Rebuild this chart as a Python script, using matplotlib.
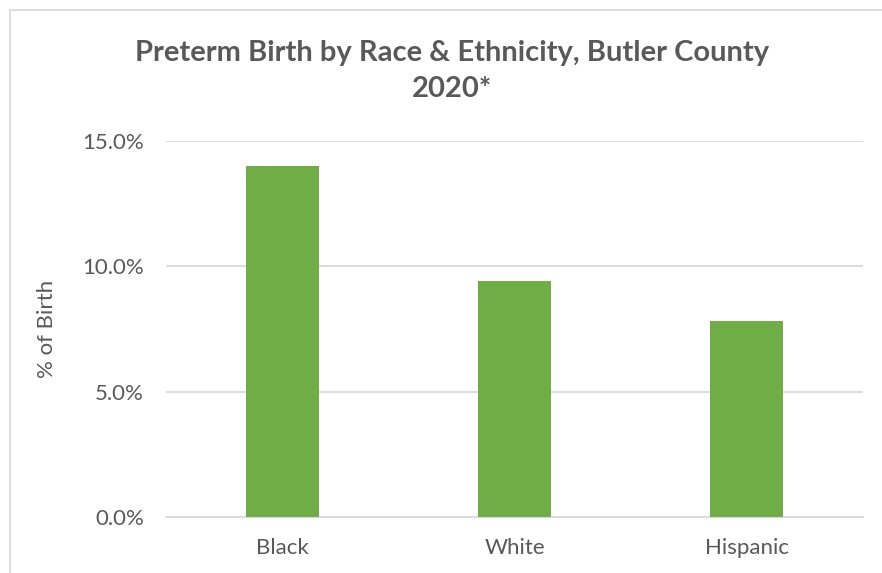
import matplotlib
matplotlib.use("Agg")
import matplotlib.pyplot as plt
from matplotlib.ticker import FuncFormatter, MultipleLocator
from matplotlib.patches import Rectangle

categories = ["Black", "White", "Hispanic"]
values = [14.0, 9.4, 7.8]
title = "Preterm Birth by Race & Ethnicity, Butler County\n2020*"
ylabel = "% of Birth"

plt.rcParams['font.family'] = ['Lato', 'DejaVu Sans']

fig = plt.figure(figsize=(8.82, 5.73), dpi=100)
fig.patch.set_facecolor("white")
# chart border (top and left visible)
fig.add_artist(Rectangle((10/882, -0.1), 1.2, (573-10)/573 + 0.1, transform=fig.transFigure,
                         fill=False, edgecolor="#D9D9D9", linewidth=1.3))

ax = fig.add_axes([166/882, 1 - 517/573, (863-166)/882, (517-141)/573])
x = list(range(len(categories)))
ax.bar(x, values, width=0.315, color="#70AD47", zorder=3)
ax.set_xlim(-0.5, len(categories) - 0.5)
ax.set_ylim(0, 15)
ax.yaxis.set_major_locator(MultipleLocator(5))
ax.yaxis.set_major_formatter(FuncFormatter(lambda v, p: f"{v:.1f}%"))
ax.grid(axis="y", color="#D9D9D9", linewidth=1.3, zorder=0)
for s in ["top", "right", "left"]:
    ax.spines[s].set_visible(False)
ax.spines["bottom"].set_color("#D9D9D9")
ax.spines["bottom"].set_linewidth(1.3)
ax.tick_params(axis="both", length=0, labelsize=16, colors="#595959")
ax.tick_params(axis="y", pad=16)
ax.tick_params(axis="x", pad=15)
ax.set_xticks(x)
ax.set_xticklabels(categories)
ax.set_ylabel(ylabel, fontsize=16, color="#595959", labelpad=18)

fig.text(452/882, 1 - 71/573, title, ha="center", va="center", fontsize=21,
         fontweight="bold", color="#595959", linespacing=1.5)

fig.savefig("out.png", dpi=100)
